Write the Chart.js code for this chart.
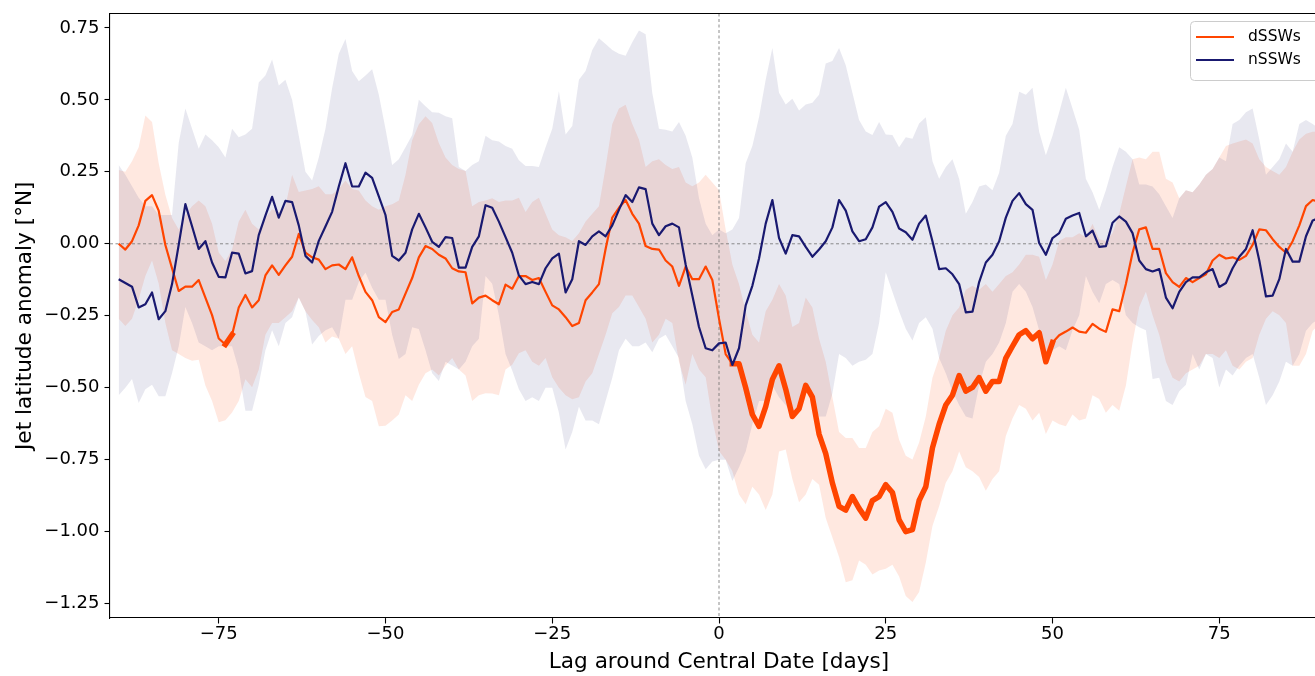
<!DOCTYPE html>
<html>
<head>
<meta charset="utf-8">
<script src="https://cdn.jsdelivr.net/npm/chart.js@4.4.1/dist/chart.umd.min.js"></script>
<style>
  html, body { margin: 0; padding: 0; background: #ffffff; }
  #janela { width: 1315px; height: 676px; overflow: hidden; position: relative; }
  #box { width: 1328px; height: 676px; position: absolute; left: 0; top: 0; }
</style>
</head>
<body>
<div id="janela"><div id="box"><canvas id="grafico"></canvas></div></div>
<script>
// lag em dias, de -90 a 90
const LAG_INICIO = -90;
const LAG_FIM = 90;

const DSSW_MEDIA = [
  0.000, -0.020, 0.009, 0.064, 0.149, 0.169, 0.115, -0.004, -0.085, -0.164,
  -0.149, -0.149, -0.126, -0.187, -0.248, -0.329, -0.350, -0.316, -0.221, -0.178,
  -0.221, -0.196, -0.110, -0.075, -0.108, -0.075, -0.045, 0.034, -0.031, -0.047,
  -0.055, -0.088, -0.075, -0.072, -0.088, -0.047, -0.112, -0.167, -0.196, -0.255,
  -0.272, -0.237, -0.228, -0.173, -0.119, -0.047, -0.008, -0.018, -0.038, -0.051,
  -0.085, -0.096, -0.099, -0.207, -0.187, -0.180, -0.196, -0.210, -0.142, -0.156,
  -0.112, -0.112, -0.126, -0.119, -0.167, -0.214, -0.228, -0.255, -0.286, -0.275,
  -0.196, -0.169, -0.140, -0.018, 0.091, 0.125, 0.152, 0.104, 0.070, -0.008,
  -0.018, -0.020, -0.058, -0.079, -0.146, -0.079, -0.123, -0.123, -0.079, -0.126,
  -0.260, -0.383, -0.417, -0.417, -0.500, -0.593, -0.634, -0.566, -0.471, -0.424,
  -0.505, -0.600, -0.573, -0.492, -0.533, -0.661, -0.729, -0.831, -0.912, -0.925,
  -0.878, -0.919, -0.953, -0.892, -0.878, -0.837, -0.864, -0.959, -1.000, -0.993,
  -0.892, -0.844, -0.709, -0.627, -0.560, -0.526, -0.458, -0.512, -0.499, -0.465,
  -0.512, -0.478, -0.478, -0.397, -0.356, -0.316, -0.302, -0.330, -0.309, -0.410,
  -0.343, -0.318, -0.305, -0.291, -0.305, -0.309, -0.278, -0.295, -0.306, -0.228,
  -0.234, -0.140, -0.031, 0.050, 0.057, -0.018, -0.018, -0.102, -0.133, -0.150,
  -0.119, -0.133, -0.119, -0.106, -0.058, -0.038, -0.051, -0.047, -0.056, -0.042,
  -0.004, 0.050, 0.047, 0.016, -0.011, -0.031, 0.009, 0.064, 0.131, 0.152,
  0.145
];

const DSSW_ALTO = [
  0.256, 0.250, 0.287, 0.335, 0.446, 0.423, 0.280, 0.170, 0.090, 0.050,
  0.100, 0.130, 0.150, 0.130, 0.070, -0.030, -0.060, -0.020, 0.077, 0.118,
  0.070, 0.050, 0.090, 0.120, 0.110, 0.130, 0.240, 0.180, 0.185, 0.190,
  0.200, 0.172, 0.172, 0.190, 0.220, 0.190, 0.185, 0.150, 0.130, 0.118,
  0.130, 0.137, 0.150, 0.240, 0.360, 0.415, 0.443, 0.420, 0.350, 0.300,
  0.274, 0.260, 0.253, 0.130, 0.145, 0.150, 0.158, 0.145, 0.150, 0.150,
  0.160, 0.110, 0.145, 0.160, 0.104, 0.050, 0.030, 0.023, 0.010, 0.037,
  0.077, 0.104, 0.130, 0.267, 0.416, 0.470, 0.483, 0.416, 0.362, 0.267,
  0.287, 0.294, 0.274, 0.260, 0.267, 0.213, 0.200, 0.213, 0.240, 0.213,
  0.186, 0.050, -0.072, -0.140, -0.234, -0.316, -0.343, -0.234, -0.194, -0.140,
  -0.180, -0.289, -0.275, -0.187, -0.221, -0.330, -0.410, -0.533, -0.654, -0.675,
  -0.675, -0.709, -0.709, -0.654, -0.634, -0.573, -0.587, -0.681, -0.736, -0.749,
  -0.690, -0.600, -0.465, -0.397, -0.302, -0.248, -0.221, -0.160, -0.146, -0.160,
  -0.140, -0.167, -0.140, -0.112, -0.099, -0.072, -0.038, -0.038, -0.045, -0.126,
  -0.072, 0.010, 0.023, 0.023, 0.037, 0.023, 0.070, 0.016, 0.010, 0.037,
  0.104, 0.200, 0.294, 0.300, 0.294, 0.320, 0.320, 0.226, 0.213, 0.158,
  0.186, 0.179, 0.206, 0.240, 0.260, 0.300, 0.340, 0.348, 0.355, 0.362,
  0.348, 0.294, 0.267, 0.253, 0.240, 0.267, 0.320, 0.362, 0.382, 0.389,
  0.390
];

const DSSW_BAIXO = [
  -0.260, -0.286, -0.260, -0.193, -0.112, -0.058, -0.139, -0.275, -0.370, -0.383,
  -0.397, -0.406, -0.403, -0.492, -0.546, -0.620, -0.613, -0.586, -0.546, -0.471,
  -0.498, -0.438, -0.316, -0.275, -0.275, -0.255, -0.234, -0.187, -0.234, -0.265,
  -0.290, -0.343, -0.322, -0.330, -0.383, -0.356, -0.450, -0.532, -0.546, -0.634,
  -0.632, -0.614, -0.593, -0.526, -0.546, -0.490, -0.450, -0.437, -0.458, -0.423,
  -0.397, -0.437, -0.458, -0.546, -0.526, -0.519, -0.520, -0.526, -0.437, -0.420,
  -0.380, -0.370, -0.410, -0.424, -0.397, -0.464, -0.500, -0.526, -0.540, -0.533,
  -0.478, -0.450, -0.383, -0.316, -0.241, -0.220, -0.180, -0.180, -0.220, -0.260,
  -0.343, -0.316, -0.260, -0.275, -0.410, -0.490, -0.383, -0.437, -0.464, -0.610,
  -0.720, -0.750, -0.790, -0.871, -0.905, -0.844, -0.871, -0.925, -0.871, -0.722,
  -0.715, -0.817, -0.898, -0.871, -0.817, -0.837, -0.953, -1.020, -1.088, -1.176,
  -1.169, -1.100, -1.115, -1.149, -1.135, -1.129, -1.115, -1.156, -1.224, -1.244,
  -1.210, -1.108, -0.980, -0.912, -0.830, -0.790, -0.722, -0.776, -0.790, -0.810,
  -0.858, -0.817, -0.790, -0.668, -0.607, -0.560, -0.573, -0.614, -0.587, -0.661,
  -0.614, -0.627, -0.634, -0.593, -0.614, -0.607, -0.526, -0.539, -0.587, -0.560,
  -0.580, -0.492, -0.343, -0.220, -0.167, -0.248, -0.316, -0.410, -0.465, -0.478,
  -0.450, -0.437, -0.424, -0.383, -0.383, -0.397, -0.370, -0.424, -0.437, -0.410,
  -0.397, -0.316, -0.260, -0.234, -0.248, -0.275, -0.424, -0.424, -0.383, -0.302,
  -0.280
];

const NSSW_MEDIA = [
  -0.123, -0.136, -0.149, -0.221, -0.210, -0.169, -0.262, -0.234, -0.140, -0.004,
  0.138, 0.061, -0.018, 0.009, -0.065, -0.115, -0.117, -0.031, -0.034, -0.103,
  -0.095, 0.030, 0.098, 0.163, 0.091, 0.149, 0.145, 0.064, -0.042, -0.065,
  0.010, 0.060, 0.111, 0.199, 0.280, 0.199, 0.199, 0.247, 0.229, 0.165,
  0.100, -0.042, -0.058, -0.031, 0.050, 0.104, 0.057, 0.007, -0.011, 0.023,
  0.020, -0.083, -0.083, -0.011, 0.026, 0.134, 0.125, 0.077, 0.023, -0.031,
  -0.110, -0.140, -0.133, -0.140, -0.085, -0.051, -0.034, -0.169, -0.123, 0.009,
  -0.004, 0.026, 0.043, 0.026, 0.064, 0.118, 0.169, 0.145, 0.196, 0.190,
  0.070, 0.030, 0.061, 0.070, 0.057, -0.072, -0.180, -0.289, -0.363, -0.370,
  -0.346, -0.343, -0.421, -0.363, -0.214, -0.146, -0.051, 0.070, 0.152, 0.020,
  -0.034, 0.030, 0.026, -0.011, -0.045, -0.020, 0.009, 0.057, 0.152, 0.115,
  0.043, 0.009, 0.016, 0.057, 0.129, 0.145, 0.111, 0.053, 0.040, 0.014,
  0.070, 0.098, 0.009, -0.088, -0.085, -0.106, -0.140, -0.238, -0.236, -0.133,
  -0.065, -0.038, 0.009, 0.091, 0.149, 0.176, 0.138, 0.118, 0.003, -0.038,
  0.020, 0.037, 0.087, 0.098, 0.107, 0.026, 0.046, -0.011, -0.008, 0.073,
  0.095, 0.077, 0.037, -0.058, -0.088, -0.096, -0.088, -0.187, -0.224, -0.167,
  -0.133, -0.117, -0.117, -0.099, -0.088, -0.150, -0.136, -0.085, -0.045, -0.018,
  0.047, -0.058, -0.183, -0.180, -0.123, -0.018, -0.062, -0.062, 0.026, 0.081,
  0.090
];

const NSSW_ALTO = [
  0.274, 0.240, 0.200, 0.160, 0.130, 0.130, 0.100, 0.100, 0.100, 0.350,
  0.470, 0.400, 0.330, 0.380, 0.360, 0.335, 0.300, 0.400, 0.370, 0.380,
  0.400, 0.560, 0.585, 0.640, 0.550, 0.570, 0.500, 0.375, 0.250, 0.220,
  0.300, 0.400, 0.540, 0.660, 0.711, 0.600, 0.565, 0.585, 0.606, 0.518,
  0.400, 0.274, 0.294, 0.335, 0.378, 0.500, 0.478, 0.457, 0.455, 0.443,
  0.436, 0.267, 0.253, 0.274, 0.287, 0.375, 0.360, 0.355, 0.340, 0.330,
  0.290, 0.270, 0.270, 0.267, 0.335, 0.400, 0.530, 0.380, 0.409, 0.570,
  0.600, 0.673, 0.714, 0.694, 0.673, 0.660, 0.653, 0.700, 0.741, 0.728,
  0.524, 0.400, 0.396, 0.390, 0.423, 0.375, 0.300, 0.158, 0.070, 0.030,
  0.050, 0.037, 0.050, 0.090, 0.280, 0.340, 0.440, 0.570, 0.680, 0.525,
  0.484, 0.504, 0.463, 0.484, 0.490, 0.518, 0.626, 0.635, 0.680, 0.620,
  0.525, 0.430, 0.390, 0.378, 0.423, 0.380, 0.378, 0.335, 0.370, 0.365,
  0.418, 0.440, 0.287, 0.226, 0.267, 0.294, 0.226, 0.104, 0.145, 0.199,
  0.206, 0.186, 0.247, 0.375, 0.416, 0.528, 0.518, 0.542, 0.389, 0.308,
  0.375, 0.457, 0.542, 0.470, 0.396, 0.226, 0.179, 0.118, 0.186, 0.267,
  0.335, 0.320, 0.294, 0.206, 0.206, 0.199, 0.172, 0.130, 0.090, 0.158,
  0.186, 0.179, 0.206, 0.240, 0.260, 0.300, 0.287, 0.416, 0.430, 0.457,
  0.470, 0.362, 0.240, 0.267, 0.294, 0.348, 0.320, 0.416, 0.430, 0.416,
  0.400
];

const NSSW_BAIXO = [
  -0.526, -0.500, -0.470, -0.553, -0.505, -0.490, -0.530, -0.530, -0.450, -0.356,
  -0.220, -0.275, -0.343, -0.356, -0.370, -0.356, -0.356, -0.356, -0.437, -0.580,
  -0.580, -0.490, -0.370, -0.300, -0.356, -0.275, -0.255, -0.187, -0.234, -0.350,
  -0.320, -0.300, -0.290, -0.330, -0.194, -0.194, -0.133, -0.100, -0.153, -0.194,
  -0.194, -0.316, -0.400, -0.383, -0.290, -0.296, -0.370, -0.450, -0.477, -0.410,
  -0.423, -0.437, -0.410, -0.356, -0.330, -0.112, -0.139, -0.248, -0.383, -0.440,
  -0.505, -0.546, -0.533, -0.546, -0.500, -0.500, -0.587, -0.715, -0.654, -0.566,
  -0.614, -0.614, -0.627, -0.546, -0.465, -0.370, -0.330, -0.356, -0.356, -0.343,
  -0.377, -0.330, -0.316, -0.356, -0.397, -0.546, -0.627, -0.736, -0.783, -0.756,
  -0.750, -0.750, -0.824, -0.776, -0.722, -0.627, -0.546, -0.546, -0.492, -0.533,
  -0.560, -0.600, -0.546, -0.505, -0.546, -0.600, -0.600, -0.520, -0.383, -0.397,
  -0.424, -0.410, -0.403, -0.383, -0.275, -0.099, -0.167, -0.234, -0.295, -0.336,
  -0.275, -0.255, -0.295, -0.397, -0.450, -0.512, -0.560, -0.600, -0.607, -0.492,
  -0.410, -0.383, -0.343, -0.275, -0.167, -0.140, -0.167, -0.220, -0.300, -0.383,
  -0.370, -0.356, -0.370, -0.300, -0.248, -0.112, -0.167, -0.207, -0.140, -0.126,
  -0.140, -0.248, -0.275, -0.290, -0.300, -0.470, -0.465, -0.546, -0.560, -0.512,
  -0.490, -0.383, -0.437, -0.383, -0.397, -0.499, -0.437, -0.458, -0.424, -0.397,
  -0.383, -0.465, -0.560, -0.526, -0.478, -0.410, -0.424, -0.383, -0.302, -0.275,
  -0.260
];

// trechos significativos (linha grossa) da curva dSSW, em dias
const DSSW_SIGNIFICATIVO = [[-74, -73], [2, 50]];

const X_TICKS = [-75, -50, -25, 0, 25, 50, 75];
const Y_TICKS = [-1.25, -1.00, -0.75, -0.50, -0.25, 0.00, 0.25, 0.50, 0.75];

const COR_DSSW = '#ff4500';
const COR_NSSW = '#191970';
const FONTE = "'DejaVu Sans', sans-serif";

function pontos(valores) {
    return valores.map((v, i) => ({ x: LAG_INICIO + i, y: v }));
}

function pontosSignificativos(valores) {
    return valores.map((v, i) => {
        const lag = LAG_INICIO + i;
        const dentro = DSSW_SIGNIFICATIVO.some(t => lag >= t[0] && lag <= t[1]);
        return { x: lag, y: dentro ? v : null };
    });
}

function textoMenos(valor, casas) {
    const txt = Math.abs(valor).toFixed(casas);
    return valor < 0 ? '\u2212' + txt : txt;
}

// linhas tracejadas no zero, moldura de cima e legenda
const extras = {
    id: 'extras',
    beforeDatasetsDraw(chart) {
        const ctx = chart.ctx;
        const area = chart.chartArea;
        const x0 = chart.scales.x.getPixelForValue(0);
        const y0 = chart.scales.y.getPixelForValue(0);
        ctx.save();
        ctx.strokeStyle = '#6f6f6f';
        ctx.lineWidth = 0.8;
        ctx.setLineDash([3, 2.5]);
        ctx.beginPath();
        ctx.moveTo(area.left, y0);
        ctx.lineTo(area.right, y0);
        ctx.moveTo(x0, area.top);
        ctx.lineTo(x0, area.bottom);
        ctx.stroke();
        ctx.restore();
    },
    afterDraw(chart) {
        const ctx = chart.ctx;
        const area = chart.chartArea;
        ctx.save();
        ctx.strokeStyle = '#000000';
        ctx.lineWidth = 1.1;
        ctx.beginPath();
        ctx.moveTo(area.left, area.top);
        ctx.lineTo(area.right, area.top);
        ctx.lineTo(area.right, area.bottom);
        ctx.stroke();

        // legenda
        const lx = 1190.5, ly = 21.5, lw = 130, lh = 59;
        ctx.fillStyle = 'rgba(255,255,255,0.8)';
        ctx.strokeStyle = '#cccccc';
        ctx.lineWidth = 1;
        ctx.beginPath();
        ctx.roundRect(lx, ly, lw, lh, 4);
        ctx.fill();
        ctx.stroke();

        const itens = [
            { nome: 'dSSWs', cor: COR_DSSW, y: 37 },
            { nome: 'nSSWs', cor: COR_NSSW, y: 60 }
        ];
        ctx.font = '15.5px ' + FONTE;
        ctx.textBaseline = 'middle';
        itens.forEach(item => {
            ctx.strokeStyle = item.cor;
            ctx.lineWidth = 2.2;
            ctx.beginPath();
            ctx.moveTo(1196, item.y);
            ctx.lineTo(1234, item.y);
            ctx.stroke();
            ctx.fillStyle = '#000000';
            ctx.fillText(item.nome, 1248, item.y);
        });
        ctx.restore();
    }
};

const canvas = document.getElementById('grafico');

new Chart(canvas, {
    type: 'line',
    data: {
        datasets: [
            {
                label: 'nSSWs',
                data: pontos(NSSW_MEDIA),
                borderColor: COR_NSSW,
                borderWidth: 2.2,
                borderJoinStyle: 'round',
                pointRadius: 0,
                fill: false
            },
            {
                label: 'dSSWs significativo',
                data: pontosSignificativos(DSSW_MEDIA),
                borderColor: COR_DSSW,
                borderWidth: 5.5,
                borderJoinStyle: 'round',
                borderCapStyle: 'square',
                pointRadius: 0,
                spanGaps: false,
                fill: false
            },
            {
                label: 'dSSWs',
                data: pontos(DSSW_MEDIA),
                borderColor: COR_DSSW,
                borderWidth: 2.2,
                borderJoinStyle: 'round',
                pointRadius: 0,
                fill: false
            },
            {
                label: 'nSSWs alto',
                data: pontos(NSSW_ALTO),
                borderWidth: 0,
                borderColor: 'rgba(0,0,0,0)',
                backgroundColor: 'rgba(25,25,112,0.10)',
                pointRadius: 0,
                fill: '+1'
            },
            {
                label: 'nSSWs baixo',
                data: pontos(NSSW_BAIXO),
                borderWidth: 0,
                borderColor: 'rgba(0,0,0,0)',
                pointRadius: 0,
                fill: false
            },
            {
                label: 'dSSWs alto',
                data: pontos(DSSW_ALTO),
                borderWidth: 0,
                borderColor: 'rgba(0,0,0,0)',
                backgroundColor: 'rgba(255,69,0,0.12)',
                pointRadius: 0,
                fill: '+1'
            },
            {
                label: 'dSSWs baixo',
                data: pontos(DSSW_BAIXO),
                borderWidth: 0,
                borderColor: 'rgba(0,0,0,0)',
                pointRadius: 0,
                fill: false
            }
        ]
    },
    options: {
        responsive: true,
        maintainAspectRatio: false,
        animation: false,
        devicePixelRatio: 1,
        layout: {
            padding: { top: 13.5, right: 0, bottom: 0, left: 0 }
        },
        plugins: {
            legend: { display: false },
            tooltip: { enabled: false },
            filler: { drawTime: 'beforeDatasetsDraw' }
        },
        scales: {
            x: {
                type: 'linear',
                min: -91.3,
                max: 91.3,
                afterBuildTicks: (scale) => {
                    scale.ticks = X_TICKS.map(v => ({ value: v }));
                },
                afterFit: (scale) => {
                    scale.height = 58;
                    scale.paddingLeft = 0;
                    scale.paddingRight = 0;
                },
                grid: {
                    drawOnChartArea: false,
                    drawTicks: true,
                    tickLength: 5.5,
                    tickWidth: 1.1,
                    tickColor: '#000000'
                },
                border: { display: true, color: '#000000', width: 1.1 },
                ticks: {
                    color: '#000000',
                    padding: 0,
                    maxRotation: 0,
                    autoSkip: false,
                    font: { family: FONTE, size: 18 },
                    callback: (v) => textoMenos(v, 0)
                },
                title: {
                    display: true,
                    text: 'Lag around Central Date [days]',
                    color: '#000000',
                    font: { family: FONTE, size: 21.6 },
                    padding: { top: 0, bottom: 1 }
                }
            },
            y: {
                type: 'linear',
                min: -1.30,
                max: 0.80,
                afterBuildTicks: (scale) => {
                    scale.ticks = Y_TICKS.map(v => ({ value: v }));
                },
                afterFit: (scale) => {
                    scale.width = 110;
                    scale.paddingTop = 0;
                    scale.paddingBottom = 0;
                },
                grid: {
                    drawOnChartArea: false,
                    drawTicks: true,
                    tickLength: 5.5,
                    tickWidth: 1.1,
                    tickColor: '#000000'
                },
                border: { display: true, color: '#000000', width: 1.1 },
                ticks: {
                    color: '#000000',
                    padding: 5,
                    autoSkip: false,
                    font: { family: FONTE, size: 18 },
                    callback: (v) => textoMenos(v, 2)
                },
                title: {
                    display: true,
                    text: 'Jet latitude anomaly [°N]',
                    color: '#000000',
                    font: { family: FONTE, size: 21.6 },
                    padding: { top: 12, bottom: 0 }
                }
            }
        }
    },
    plugins: [extras]
});
</script>
</body>
</html>
